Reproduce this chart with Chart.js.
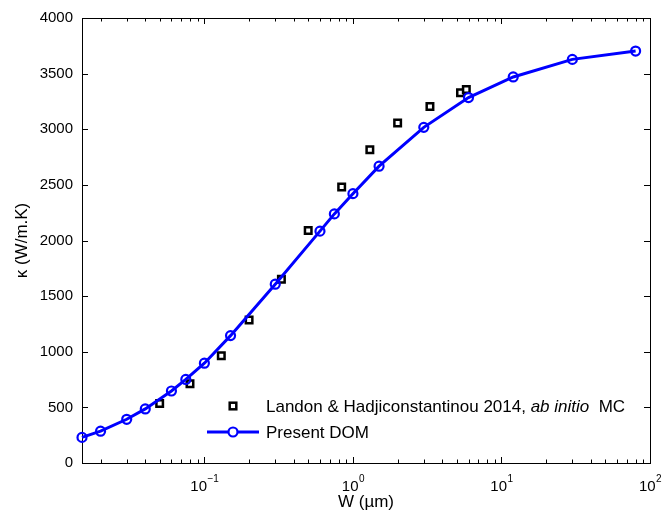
<!DOCTYPE html>
<html>
<head>
<meta charset="utf-8">
<script src="https://cdn.jsdelivr.net/npm/chart.js@4.4.1/dist/chart.umd.min.js"></script>
<style>
  html, body { margin: 0; padding: 0; background: #fff; }
</style>
</head>
<body>
<canvas id="kappaChart" width="662" height="513"></canvas>
<script>
// Present DOM results
const domWidth = [0.015, 0.02, 0.03, 0.04, 0.06, 0.075, 0.1, 0.15, 0.3, 0.6, 0.75, 1, 1.5, 3, 6, 12, 30, 80];
const domKappa = [230, 286, 393, 486, 647, 751, 897, 1145, 1607, 2084, 2239, 2421, 2668, 3017, 3285, 3470, 3628, 3703];

// Landon & Hadjiconstantinou 2014, ab initio MC
const mcWidth = [0.05, 0.08, 0.13, 0.2, 0.33, 0.5, 0.84, 1.3, 2, 3.3, 5.3, 5.8];
const mcKappa = [534, 713, 963, 1285, 1652, 2090, 2480, 2815, 3056, 3205, 3327, 3357];

const xPowers = [-1, 0, 1, 2];
const xSup = ['\u22121', '0', '1', '2'];
const yTicks = [0, 500, 1000, 1500, 2000, 2500, 3000, 3500, 4000];

const FONT = '"Liberation Sans", Arial, Helvetica, sans-serif';
const BLUE = '#0000ff';

const toPoints = (xs, ys) => xs.map((v, i) => ({ x: v, y: ys[i] }));

// axis box with inward ticks, like the original figure
const frame = {
    id: 'frame',
    beforeDatasetsDraw(chart) {
        const { ctx, chartArea: a, scales: { x, y } } = chart;
        ctx.save();
        ctx.strokeStyle = '#000';
        ctx.lineWidth = 1;
        ctx.strokeRect(Math.round(a.left) + 0.5, Math.round(a.top) + 0.5,
            Math.round(a.right - a.left), Math.round(a.bottom - a.top));
        ctx.beginPath();
        for (let d = -2; d <= 2; d++) {
            for (let m = 1; m <= 9; m++) {
                const v = m * Math.pow(10, d);
                if (v < x.min - 1e-9 || v > x.max + 1e-9) continue;
                const px = Math.round(x.getPixelForValue(v)) + 0.5;
                const len = m === 1 ? 6 : 3.5;
                ctx.moveTo(px, a.bottom); ctx.lineTo(px, a.bottom - len);
                ctx.moveTo(px, a.top); ctx.lineTo(px, a.top + len);
            }
        }
        yTicks.forEach(t => {
            const py = Math.round(y.getPixelForValue(t)) + 0.5;
            ctx.moveTo(a.left, py); ctx.lineTo(a.left + 6, py);
            ctx.moveTo(a.right, py); ctx.lineTo(a.right - 6, py);
        });
        ctx.stroke();
        ctx.restore();
    },
    afterDraw(chart) {
        const { ctx, chartArea: a, scales: { x } } = chart;
        ctx.save();
        ctx.fillStyle = '#000';
        ctx.textBaseline = 'alphabetic';
        // decade labels 10^n
        xPowers.forEach((p, i) => {
            const px = x.getPixelForValue(Math.pow(10, p));
            ctx.font = '15px ' + FONT;
            const w1 = ctx.measureText('10').width;
            ctx.font = '10px ' + FONT;
            const w2 = ctx.measureText(xSup[i]).width;
            const start = px - (w1 + w2) / 2;
            ctx.font = '15px ' + FONT;
            ctx.fillText('10', start, a.bottom + 28);
            ctx.font = '10px ' + FONT;
            ctx.fillText(xSup[i], start + w1 + 0.5, a.bottom + 19);
        });

        // legend
        const lx = a.left + 151, ly1 = a.bottom - 57, ly2 = a.bottom - 31;
        ctx.strokeStyle = '#000';
        ctx.lineWidth = 2.5;
        ctx.strokeRect(lx - 3.3, ly1 - 3.3, 6.6, 6.6);

        ctx.strokeStyle = BLUE;
        ctx.lineWidth = 3;
        ctx.beginPath();
        ctx.moveTo(lx - 26, ly2); ctx.lineTo(lx + 26, ly2);
        ctx.stroke();
        ctx.lineWidth = 2.2;
        ctx.fillStyle = '#fff';
        ctx.beginPath();
        ctx.arc(lx, ly2, 4.5, 0, Math.PI * 2);
        ctx.fill();
        ctx.stroke();

        ctx.fillStyle = '#000';
        ctx.textBaseline = 'middle';
        let tx = lx + 33;
        const parts = [['Landon & Hadjiconstantinou 2014, ', ''], ['ab initio', 'italic '], ['  MC', '']];
        parts.forEach(([txt, style]) => {
            ctx.font = style + '17px ' + FONT;
            ctx.fillText(txt, tx, ly1 + 1);
            tx += ctx.measureText(txt).width;
        });
        ctx.font = '17px ' + FONT;
        ctx.fillText('Present DOM', lx + 33, ly2 + 1);
        ctx.restore();
    }
};

const ctx = document.getElementById('kappaChart').getContext('2d');
new Chart(ctx, {
    type: 'scatter',
    data: {
        datasets: [{
            label: 'Landon & Hadjiconstantinou 2014, ab initio MC',
            data: toPoints(mcWidth, mcKappa),
            showLine: false,
            pointStyle: 'rect',
            pointRadius: 4.6,
            pointBorderWidth: 2.5,
            pointBorderColor: '#000',
            pointBackgroundColor: '#fff',
            clip: false,
            order: 1
        }, {
            label: 'Present DOM',
            data: toPoints(domWidth, domKappa),
            showLine: true,
            borderColor: BLUE,
            borderWidth: 3,
            tension: 0,
            pointStyle: 'circle',
            pointRadius: 4.5,
            pointBorderWidth: 2.2,
            pointBorderColor: BLUE,
            pointBackgroundColor: 'rgba(255,255,255,0)',
            clip: false,
            order: 0
        }]
    },
    options: {
        responsive: false,
        animation: false,
        layout: { padding: { top: 16, right: 12, left: 0, bottom: 0 } },
        plugins: {
            legend: { display: false },
            tooltip: { enabled: false }
        },
        scales: {
            x: {
                type: 'logarithmic',
                min: 0.015,
                max: 100,
                grid: { display: false, drawTicks: false },
                border: { display: false },
                ticks: { display: false },
                title: {
                    display: true,
                    text: 'W (\u00b5m)',
                    color: '#000',
                    font: { family: FONT, size: 17 },
                    padding: { top: 0, bottom: 0 }
                },
                afterFit: s => { s.height = 50; }
            },
            y: {
                min: 0,
                max: 4000,
                grid: { display: false, drawTicks: false },
                border: { display: false },
                ticks: {
                    stepSize: 500,
                    color: '#000',
                    padding: 9,
                    font: { family: FONT, size: 15 },
                    callback: v => String(v)
                },
                title: {
                    display: true,
                    text: '\u03ba (W/m.K)',
                    color: '#000',
                    font: { family: FONT, size: 17 },
                    padding: { top: 12, bottom: 0 }
                },
                afterFit: s => { s.width = 82; }
            }
        }
    },
    plugins: [frame]
});
</script>
</body>
</html>
